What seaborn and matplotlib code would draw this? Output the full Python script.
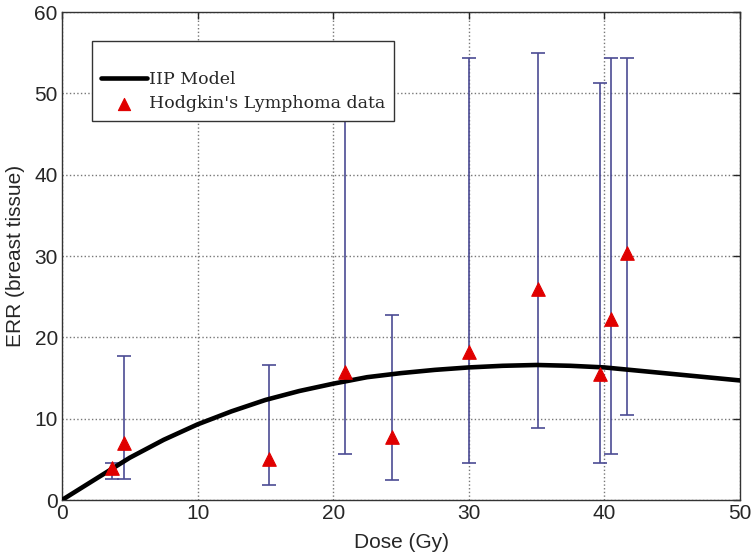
import numpy as np
import pandas as pd
import matplotlib
matplotlib.use('Agg')
import matplotlib.pyplot as plt
import seaborn as sns

# IIP model curve
model_dose = [0, 2.5, 5, 7.5, 10, 12.5, 15, 17.5, 20, 22.5, 25, 27.5, 30,
              32.5, 35, 37.5, 40, 42.5, 45, 47.5, 50]
model_err = [0, 2.6, 5.2, 7.4, 9.3, 10.9, 12.3, 13.4, 14.3, 15.1, 15.6, 16.0,
             16.3, 16.5, 16.6, 16.5, 16.3, 15.9, 15.5, 15.1, 14.7]

# Hodgkin's lymphoma data points with error bars
hl_dose = [3.7, 4.6, 15.3, 20.9, 24.3, 30.0, 35.1, 39.7, 40.5, 41.7]
hl_err = [3.9, 7.0, 5.0, 15.7, 7.8, 18.2, 25.9, 15.5, 22.3, 30.4]
hl_low = [2.6, 2.6, 1.9, 5.7, 2.5, 4.6, 8.9, 4.6, 5.7, 10.4]
hl_high = [4.6, 17.7, 16.6, 54.3, 22.8, 54.4, 54.9, 51.3, 54.4, 54.4]

x_ticks = [0, 10, 20, 30, 40, 50]
y_ticks = [0, 10, 20, 30, 40, 50, 60]

sns.set_style('white')
plt.rcParams['font.family'] = ['Liberation Sans', 'DejaVu Sans']

df_model = pd.DataFrame({'dose': model_dose, 'err': model_err})
df_hl = pd.DataFrame({'dose': hl_dose, 'err': hl_err, 'low': hl_low, 'high': hl_high})

fig = plt.figure(figsize=(7.53, 5.59), dpi=100)
ax = fig.add_axes([62 / 753, 59 / 559, 678 / 753, 488 / 559])

# error bars
yerr = np.vstack([df_hl['err'] - df_hl['low'], df_hl['high'] - df_hl['err']])
ax.errorbar(df_hl['dose'], df_hl['err'], yerr=yerr, fmt='none', ecolor='#4b4b94',
            elinewidth=1.2, capsize=5, capthick=1.2, zorder=2)

sns.lineplot(data=df_model, x='dose', y='err', color='black', linewidth=3.3,
             label='IIP Model', ax=ax, zorder=3)
sns.scatterplot(data=df_hl, x='dose', y='err', marker='^', color='#e00000', s=95,
                edgecolor='#e00000', label="Hodgkin's Lymphoma data", ax=ax, zorder=4)

ax.set_xlim(0, 50)
ax.set_ylim(0, 60)
ax.set_xticks(x_ticks)
ax.set_yticks(y_ticks)
ax.tick_params(axis='both', labelsize=15, direction='in', length=5, width=1,
               top=True, right=True, pad=3)
ax.grid(True, linestyle=':', color='#777777', linewidth=1)
for s in ax.spines.values():
    s.set_color('#333333')
    s.set_linewidth(1)

ax.set_xlabel('Dose (Gy)', fontsize=15, labelpad=7)
ax.set_ylabel('ERR (breast tissue)', fontsize=15, labelpad=7)

leg = ax.legend(loc='upper left', bbox_to_anchor=(0.044, 0.941), borderaxespad=0,
                frameon=True, fancybox=False, framealpha=1, edgecolor='#333333',
                prop={'family': ['DejaVu Serif'], 'size': 12.5},
                title=' ', title_fontsize=12, handlelength=2.7, handletextpad=0.1,
                borderpad=0.5, labelspacing=0.4, markerscale=0.9)
leg.get_frame().set_linewidth(1)
leg._legend_box.align = 'left'

fig.savefig('out.png', dpi=100)
